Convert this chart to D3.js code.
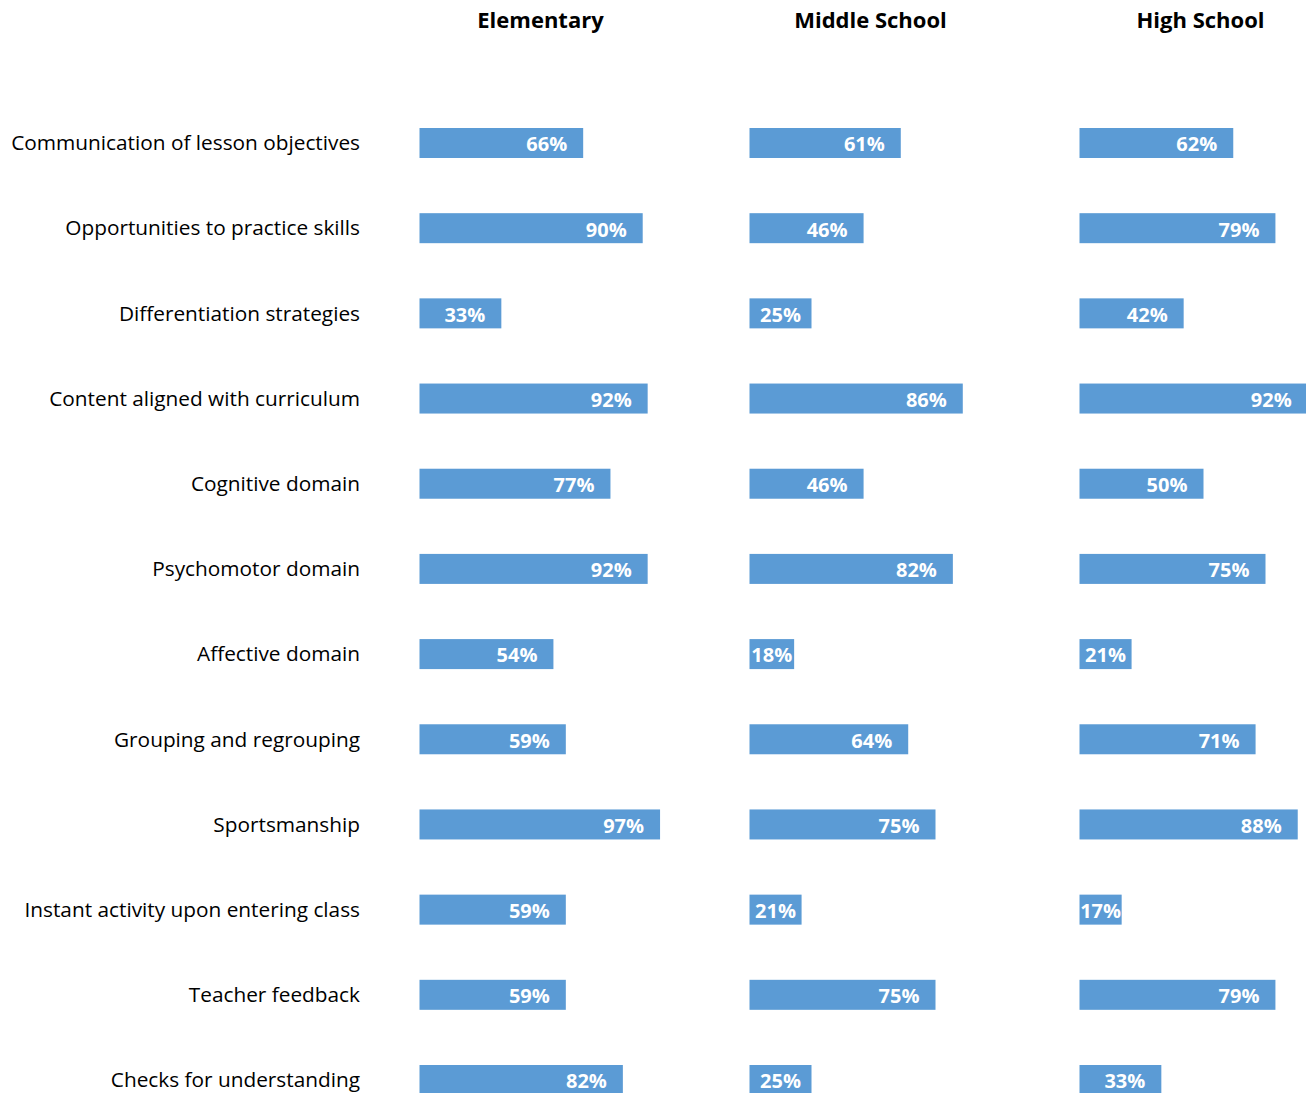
<!DOCTYPE html>
<html>
<head>
<meta charset="utf-8">
<script src="https://cdn.jsdelivr.net/npm/d3@7"></script>
<style>
  html, body { margin: 0; padding: 0; background: #fff; overflow: hidden; }
  svg { display: block; }
</style>
</head>
<body>
<svg id="chart" width="1306" height="1093"></svg>
<script>
// Survey items, one row each
const categories = [
  "Communication of lesson objectives",
  "Opportunities to practice skills",
  "Differentiation strategies",
  "Content aligned with curriculum",
  "Cognitive domain",
  "Psychomotor domain",
  "Affective domain",
  "Grouping and regrouping",
  "Sportsmanship",
  "Instant activity upon entering class",
  "Teacher feedback",
  "Checks for understanding"
];

// School levels, one panel each
const levels = ["Elementary", "Middle School", "High School"];

// Percent of observed lessons, by level
const elementary   = [66, 90, 33, 92, 77, 92, 54, 59, 97, 59, 59, 82];
const middleSchool = [61, 46, 25, 86, 46, 82, 18, 64, 75, 21, 75, 25];
const highSchool   = [62, 79, 42, 92, 50, 75, 21, 71, 88, 17, 79, 33];

const seriesValues = [elementary, middleSchool, highSchool];

const svg = d3.select("#chart");
const font = "'Open Sans', 'DejaVu Sans', sans-serif";
const barColor = "#5B9BD5";

// Panel placement
const panelX = d3.scaleBand().domain(levels).range([419.5, 1409.5]).paddingInner(0).paddingOuter(0);
const x = d3.scaleLinear().domain([0, 100]).range([0, 248]);
const y = d3.scalePoint().domain(categories).range([143, 1080]);
const barH = 30;

// Panel titles
svg.selectAll("text.title")
  .data(levels)
  .join("text")
  .attr("class", "title")
  .attr("x", d => panelX(d) + 121)
  .attr("y", 20)
  .attr("dy", "0.35em")
  .attr("text-anchor", "middle")
  .style("font-family", font)
  .style("font-weight", "700")
  .style("font-size", "22px")
  .style("fill", "#000")
  .text(d => d);

// Row labels
svg.selectAll("text.cat")
  .data(categories)
  .join("text")
  .attr("class", "cat")
  .attr("x", 360)
  .attr("y", d => y(d))
  .attr("dy", "0.35em")
  .attr("text-anchor", "end")
  .style("font-family", font)
  .style("font-size", "20.8px")
  .style("fill", "#000")
  .text(d => d);

// Bars and value labels per panel
levels.forEach((lvl, i) => {
  const g = svg.append("g").attr("transform", `translate(${panelX(lvl)},0)`);
  const rows = categories.map((c, j) => ({ cat: c, v: seriesValues[i][j] }));

  g.selectAll("rect")
    .data(rows)
    .join("rect")
    .attr("x", 0)
    .attr("y", d => y(d.cat) - barH / 2)
    .attr("width", d => x(d.v))
    .attr("height", barH)
    .attr("fill", barColor);

  g.selectAll("text.val")
    .data(rows)
    .join("text")
    .attr("class", "val")
    .attr("y", d => y(d.cat) + 1)
    .attr("dy", "0.37em")
    .attr("text-anchor", "end")
    .style("font-family", font)
    .style("font-weight", "700")
    .style("font-size", "20px")
    .style("fill", "#fff")
    .text(d => d.v + "%")
    .each(function(d) {
      const w = this.getComputedTextLength();
      const bw = x(d.v);
      const pad = Math.min(16, Math.max(0, (bw - w) / 2));
      d3.select(this).attr("x", bw - pad);
    });
});
</script>
</body>
</html>
